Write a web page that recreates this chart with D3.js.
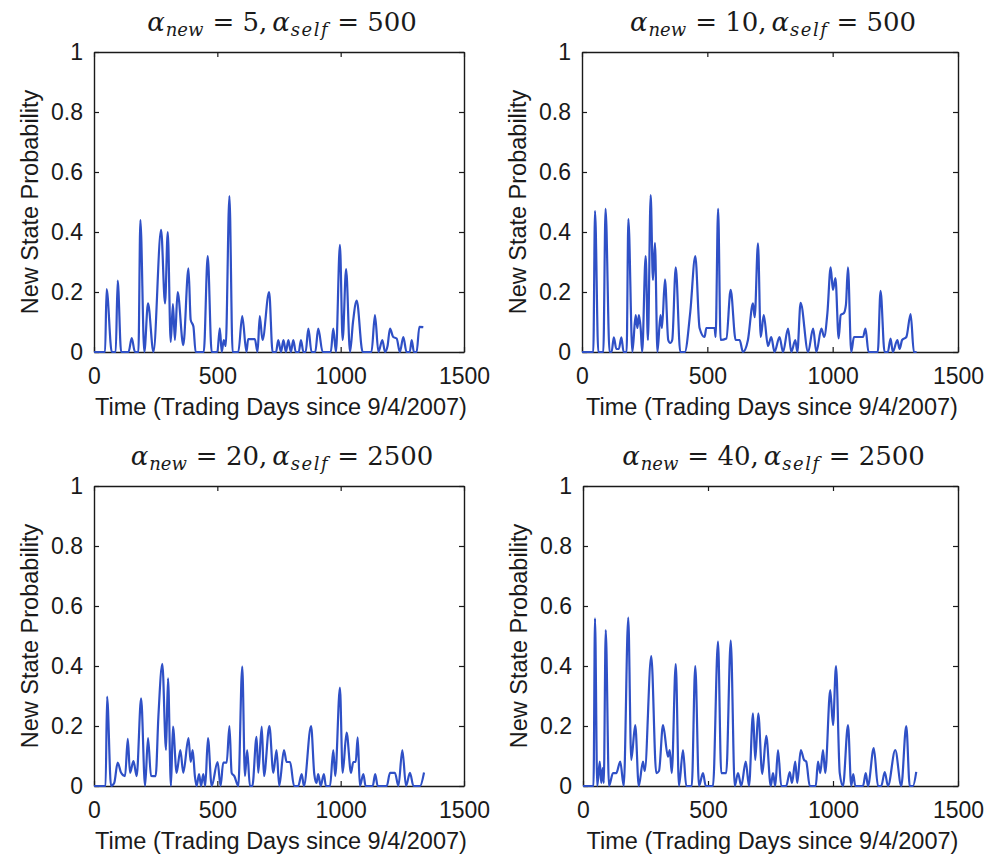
<!DOCTYPE html>
<html><head><meta charset="utf-8">
<script src="https://cdn.jsdelivr.net/npm/d3@7/dist/d3.min.js"></script>
<style>body{margin:0;background:#fff}</style>
</head><body><svg id="c" width="990" height="859"></svg>
<script>
const xTicks = [0, 500, 1000, 1500];
const yTicks = [0, 0.2, 0.4, 0.6, 0.8, 1];
const alphaNew = [5, 10, 20, 40];
const alphaSelf = [500, 500, 2500, 2500];
const xLabel = "Time (Trading Days since 9/4/2007)";
const yLabel = "New State Probability";

const days1 = [0,45,51,72,88,96,110,140,153,166,180,188,204,219,241,272,288,299,311,320,328,339,362,383,392,403,412,445,461,477,500,510,518,526,534,549,562,585,601,618,625,652,663,672,683,710,724,738,747,758,768,778,788,798,808,818,830,839,849,858,869,882,897,909,927,960,970,981,997,1008,1022,1038,1050,1065,1089,1125,1139,1153,1169,1180,1190,1200,1213,1227,1240,1254,1267,1280,1288,1297,1308,1319,1335];
const prob1 = [0,0,0.21,0,0,0.238,0,0,0.046,0,0,0.44,0,0.162,0,0.407,0.162,0.40,0.034,0.16,0.04,0.2,0.023,0.279,0.107,0.085,0,0,0.32,0,0,0.079,0,0.04,0.02,0.52,0,0,0.12,0,0.043,0.043,0,0.12,0.04,0.2,0,0,0.04,0,0.04,0,0.04,0,0.04,0,0,0.04,0,0,0.078,0,0,0.078,0,0,0.078,0,0.357,0.04,0.276,0,0.1,0.171,0,0,0.123,0,0.04,0,0.02,0.078,0.05,0.045,0,0.05,0,0,0.04,0,0,0.084,0.083];

const days2 = [0,45,52,65,85,94,110,118,127,137,147,157,166,178,185,201,214,221,227,234,240,254,263,274,283,291,301,313,319,331,344,352,360,374,392,410,432,452,469,489,496,529,533,543,553,576,593,613,629,642,662,682,689,702,713,725,742,755,768,788,802,822,835,851,859,872,902,922,935,955,966,979,992,1001,1011,1024,1032,1045,1053,1061,1074,1085,1121,1131,1143,1180,1191,1207,1220,1231,1240,1258,1267,1277,1294,1311,1324,1335];
const prob2 = [0,0,0.47,0,0,0.477,0,0,0.049,0.01,0.01,0.049,0,0,0.443,0,0.123,0.08,0.123,0.08,0,0.32,0.04,0.523,0.24,0.364,0,0.123,0.08,0.242,0.04,0.03,0.04,0.282,0,0,0.134,0.32,0.08,0.05,0.08,0.08,0.05,0.477,0.04,0.045,0.207,0.04,0.04,0,0.04,0.162,0.116,0.362,0.05,0.123,0.02,0.05,0,0.05,0,0.078,0,0.04,0,0.164,0,0.078,0,0.078,0.05,0.13,0.282,0.207,0.246,0.045,0.123,0.13,0.158,0.282,0,0.05,0.05,0.078,0,0,0.204,0,0,0.045,0,0.04,0.01,0.04,0.05,0.126,0,0];

const days3 = [0,47,53,69,82,96,110,126,137,146,160,173,191,207,219,231,250,261,277,292,300,312,320,335,350,362,383,392,400,409,416,426,434,443,451,462,477,501,513,524,538,549,558,569,585,601,612,621,632,642,659,666,680,689,711,727,740,751,770,781,795,811,828,842,851,880,893,902,909,919,932,940,957,970,978,997,1008,1024,1042,1051,1061,1069,1078,1092,1101,1130,1140,1150,1187,1200,1220,1234,1250,1265,1281,1295,1322,1338];
const prob3 = [0,0,0.298,0,0.01,0.078,0.044,0.033,0.157,0.044,0.083,0.033,0.292,0,0.16,0.034,0.033,0.231,0.407,0.12,0.359,0,0.198,0.044,0.12,0.044,0.16,0.08,0.12,0.033,0,0.04,0,0.04,0,0.16,0,0.08,0,0.078,0.078,0.2,0.044,0.033,0,0.398,0.033,0.12,0,0,0.164,0.044,0.198,0.033,0.2,0.044,0.12,0,0.12,0.08,0.08,0,0,0.04,0,0.2,0.04,0.01,0.04,0,0.04,0,0,0.12,0.033,0.328,0.044,0.178,0.044,0.08,0.08,0.162,0,0.04,0,0,0.04,0,0,0.044,0.044,0,0.12,0,0.044,0,0,0.045];

const days4 = [0,42,48,57,67,73,79,83,91,104,120,133,149,163,181,193,209,223,240,247,273,293,304,320,340,347,355,371,384,400,413,435,449,464,480,491,520,540,553,573,591,607,620,633,651,664,680,689,701,717,733,751,760,769,780,793,813,827,836,849,857,871,884,893,907,931,940,949,960,969,989,1000,1012,1027,1040,1060,1073,1081,1089,1120,1131,1140,1163,1180,1193,1207,1220,1249,1273,1293,1307,1320,1333];
const prob4 = [0,0,0.559,0,0.081,0.01,0.06,0.01,0.52,0,0.043,0.043,0.081,0,0.561,0.087,0.203,0,0.081,0.05,0.433,0.043,0.05,0.203,0.098,0.12,0.043,0.406,0,0.12,0,0,0.4,0,0.043,0,0,0.481,0.043,0.043,0.485,0,0.043,0,0.081,0,0.242,0.087,0.242,0.04,0.167,0,0.043,0,0.12,0,0,0.046,0.01,0.081,0.01,0.12,0.087,0.081,0,0,0.081,0.043,0.12,0.043,0.32,0.203,0.4,0.043,0,0.203,0,0.04,0,0,0.043,0,0.126,0,0,0.046,0,0.12,0,0.2,0,0,0.047];

const panels = [
  {days: days1, prob: prob1, l: 94, r: 464, t: 52, b: 352},
  {days: days2, prob: prob2, l: 582, r: 958, t: 52, b: 352},
  {days: days3, prob: prob3, l: 94, r: 464, t: 486, b: 786},
  {days: days4, prob: prob4, l: 583, r: 958, t: 486, b: 786}
];

const svg = d3.select("#c");
const sans = "'Liberation Sans', Arial, Helvetica, sans-serif";
const serif = "'DejaVu Serif', 'Liberation Serif', serif";
const ink = "#1a1a1a";
const lineColor = "#2f50c6";

panels.forEach((p, i) => {
  const x = d3.scaleLinear().domain([0, 1500]).range([p.l, p.r]);
  const y = d3.scaleLinear().domain([0, 1]).range([p.b, p.t]);
  const g = svg.append("g");

  const yfmt = d => (d === 0 ? "0" : d === 1 ? "1" : d3.format(".1f")(d));

  const styleAxis = sel => {
    sel.selectAll("path.domain").attr("stroke", ink).attr("stroke-width", 1.4);
    sel.selectAll(".tick line").attr("stroke", ink).attr("stroke-width", 1.2);
    sel.selectAll(".tick text").attr("fill", ink).style("font-family", sans).style("font-size", "23px");
  };

  g.append("g").attr("transform", `translate(0,${p.b})`)
    .call(d3.axisBottom(x).tickValues(xTicks).tickSize(-5).tickSizeOuter(0).tickPadding(16).tickFormat(d3.format("d")))
    .call(styleAxis);
  g.append("g").attr("transform", `translate(0,${p.t})`)
    .call(d3.axisTop(x).tickValues(xTicks).tickSize(-5).tickSizeOuter(0).tickFormat(""))
    .call(styleAxis);
  g.append("g").attr("transform", `translate(${p.l},0)`)
    .call(d3.axisLeft(y).tickValues(yTicks).tickSize(-5).tickSizeOuter(0).tickPadding(11).tickFormat(yfmt))
    .call(styleAxis);
  g.append("g").attr("transform", `translate(${p.r},0)`)
    .call(d3.axisRight(y).tickValues(yTicks).tickSize(-5).tickSizeOuter(0).tickFormat(""))
    .call(styleAxis);

  const pts = p.days.map((d, k) => [d, p.prob[k]]);
  const line = d3.line().x(d => x(d[0])).y(d => y(d[1])).curve(d3.curveMonotoneX);
  g.append("path").datum(pts).attr("d", line)
    .attr("fill", "none").attr("stroke", lineColor).attr("stroke-width", 2.2)
    .attr("stroke-linejoin", "round");

  // x label
  g.append("text").attr("x", (p.l + p.r) / 2 + 2).attr("y", p.b + 63)
    .attr("text-anchor", "middle").attr("fill", ink)
    .style("font-family", sans).style("font-size", "23.5px").text(xLabel);
  // y label
  g.append("text").attr("transform", `translate(${p.l - 56},${(p.t + p.b) / 2}) rotate(-90)`)
    .attr("text-anchor", "middle").attr("fill", ink)
    .style("font-family", sans).style("font-size", "23.5px").text(yLabel);

  // title
  const tt = g.append("text").attr("x", (p.l + p.r) / 2 + 3).attr("y", p.t - 21)
    .attr("text-anchor", "middle").attr("fill", ink)
    .style("font-family", serif).style("font-size", "26px");
  tt.append("tspan").style("font-style", "italic").text("α");
  tt.append("tspan").style("font-style", "italic").style("font-size", "18px").attr("dy", 5).attr("dx", 1).text("new");
  tt.append("tspan").attr("dy", -5).attr("dx", 9).text("= " + alphaNew[i] + ",");
  tt.append("tspan").style("font-style", "italic").attr("dx", 5).text("α");
  tt.append("tspan").style("font-style", "italic").style("font-size", "18px").attr("dy", 5).attr("dx", 1)
    .style("letter-spacing", "1.5px").text("self");
  tt.append("tspan").attr("dy", -5).attr("dx", 8).text("= " + alphaSelf[i]);
});
</script>
</body></html>
